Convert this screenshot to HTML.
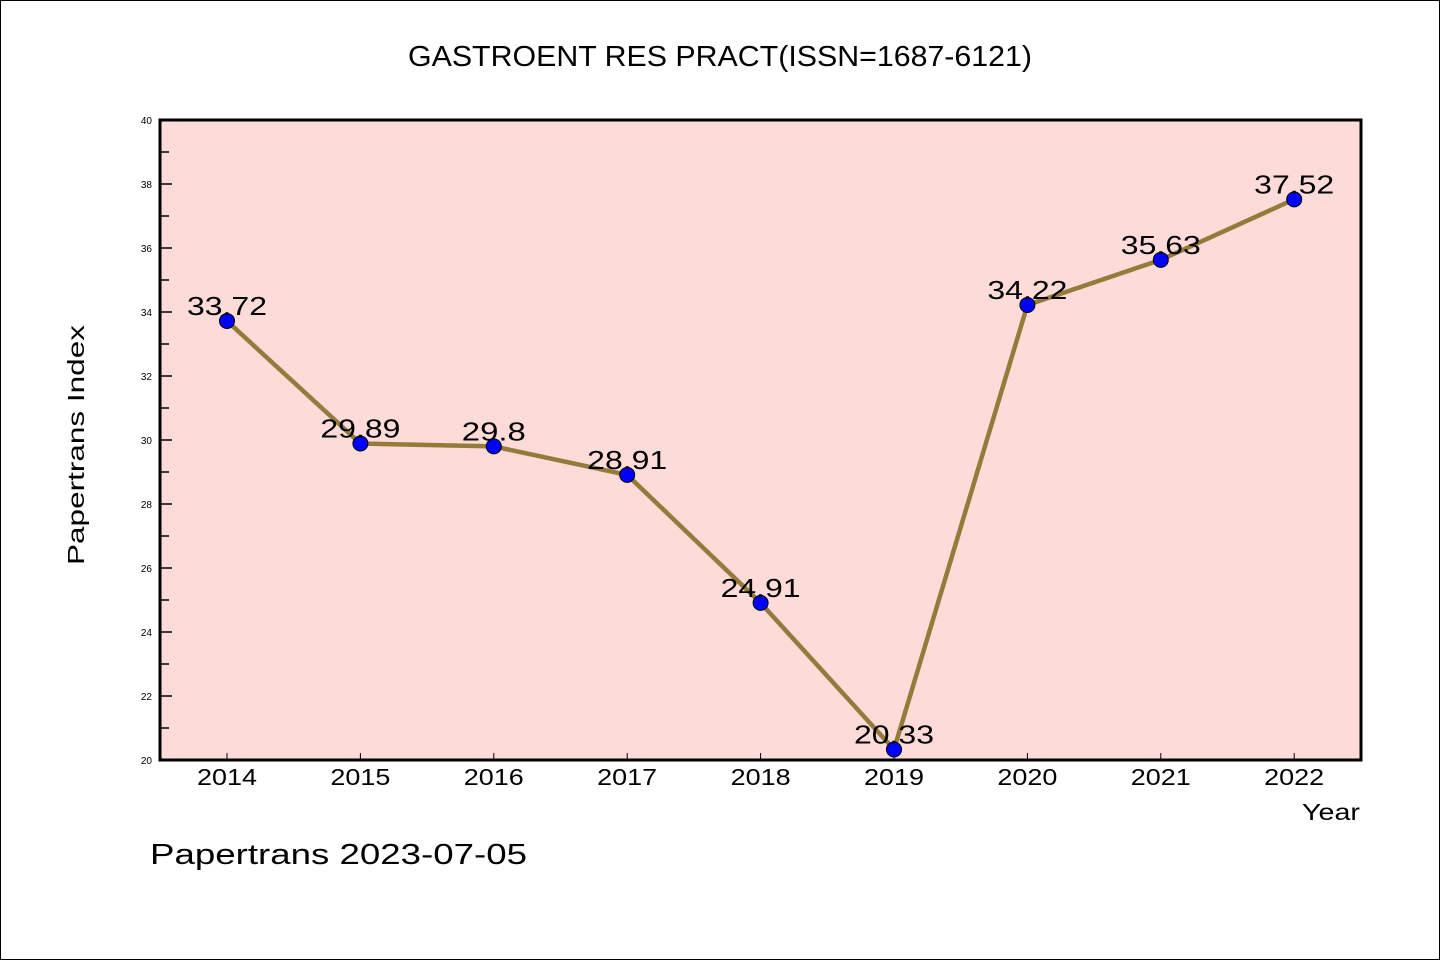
<!DOCTYPE html>
<html><head><meta charset="utf-8"><style>
body{margin:0;background:#fff}
svg{display:block;font-family:"Liberation Sans",sans-serif}
</style></head><body>
<svg id="chart" width="1440" height="960" xmlns="http://www.w3.org/2000/svg">
<rect x="0.5" y="0.5" width="1439" height="959" fill="#fff" stroke="#000"/>
<text x="408" y="66" font-size="29" textLength="624" lengthAdjust="spacingAndGlyphs">GASTROENT RES PRACT(ISSN=1687-6121)</text>
<rect x="160" y="120" width="1201" height="640" fill="#fddbd8"/>
<g id="axes"></g>
<g id="marks"></g>
<rect x="160" y="120" width="1201" height="640" fill="none" stroke="#000" stroke-width="3"/>
<text transform="translate(84,565) rotate(-90)" font-size="23" textLength="240" lengthAdjust="spacingAndGlyphs">Papertrans Index</text>
<text x="1302" y="820" font-size="23" textLength="58" lengthAdjust="spacingAndGlyphs">Year</text>
<text x="150" y="864" font-size="29" textLength="377" lengthAdjust="spacingAndGlyphs">Papertrans 2023-07-05</text>
</svg>
<script>
const years=["2014","2015","2016","2017","2018","2019","2020","2021","2022"];
const values=[33.72,29.89,29.8,28.91,24.91,20.33,34.22,35.63,37.52];
const labels=["33.72","29.89","29.8","28.91","24.91","20.33","34.22","35.63","37.52"];
const yTicks=[20,22,24,26,28,30,32,34,36,38,40];
const NS="http://www.w3.org/2000/svg";
const x=i=>227+i*133.4;
const y=v=>760-(v-20)*32;
function mk(t,a,p){const e=document.createElementNS(NS,t);for(const k in a)e.setAttribute(k,a[k]);p.appendChild(e);return e;}
const ax=document.getElementById('axes'),mg=document.getElementById('marks');
yTicks.forEach(v=>{
 const l=mk('line',{x1:160,x2:172,y1:y(v),y2:y(v),stroke:'#000','stroke-width':1.5},ax);
 
 
 const t=mk('text',{x:152,y:y(v)+4,'font-size':10,'text-anchor':'end'},ax);t.textContent=v;
 
 
 if(v<40){const m=mk('line',{x1:160,x2:169,y1:y(v+1),y2:y(v+1),stroke:'#000','stroke-width':1.5},ax);
 
 }
});
years.forEach((yr,i)=>{
 const l=mk('line',{x1:x(i),x2:x(i),y1:760,y2:753,stroke:'#000','stroke-width':1},ax);
 
 
 const t=mk('text',{x:x(i)-30,y:785,'font-size':23,textLength:60,lengthAdjust:'spacingAndGlyphs'},ax);t.textContent=yr;
 
 
});
const pl=mk('polyline',{points:values.map((v,i)=>x(i)+','+y(v)).join(' '),fill:'none',stroke:'#947b3a','stroke-width':4.5},mg);


values.forEach((v,i)=>{
 const c=mk('circle',{cx:x(i),cy:y(v),r:7.5,fill:'#0000ff',stroke:'#000','stroke-width':1},mg);
 
 
 const w=labels[i].length*16;
 const t=mk('text',{x:x(i)-w/2,y:y(v)-6,'font-size':26,textLength:w,lengthAdjust:'spacingAndGlyphs'},mg);t.textContent=labels[i];
 
 
});
</script>
</body></html>
